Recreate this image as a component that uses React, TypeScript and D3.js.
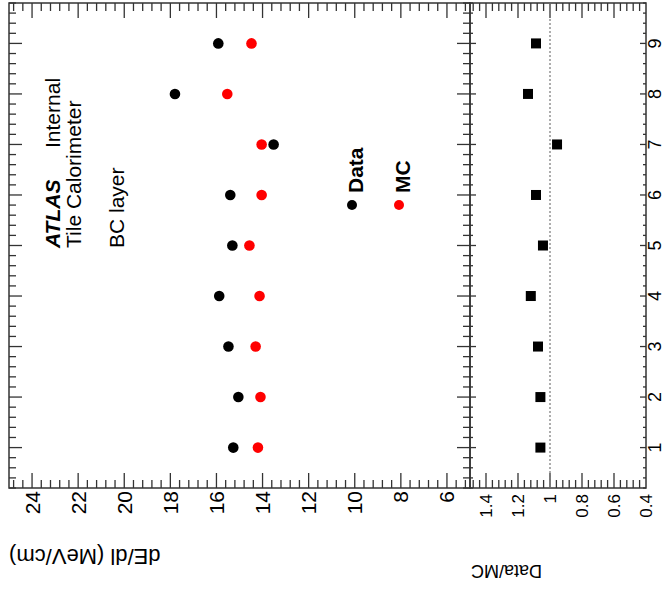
import React from "react";
import * as d3 from "d3";

const modules = [1, 2, 3, 4, 5, 6, 7, 8, 9];
const dataValues = [15.27, 15.05, 15.48, 15.88, 15.31, 15.4, 13.52, 17.8, 15.92];
const mcValues = [14.2, 14.09, 14.3, 14.13, 14.57, 14.04, 14.04, 15.53, 14.48];
const ratioValues = [1.06, 1.06, 1.075, 1.12, 1.044, 1.0875, 0.956, 1.1375, 1.0875];
const dedlTicks = [6, 8, 10, 12, 14, 16, 18, 20, 22, 24];
const ratioTicks = [0.4, 0.6, 0.8, 1, 1.2, 1.4];
const ratioTickLabels = ["0.4", "0.6", "0.8", "1", "1.2", "1.4"];

const FONT = "'Liberation Sans', Arial, Helvetica, sans-serif";

export default function App() {
  const W = 664;
  const H = 589;
  const top = 3;
  const bottom = 488;
  const mainLeft = 9;
  const divider = 470;
  const ratioRight = 646;

  const xMain = d3.scaleLinear().domain([25, 5]).range([mainLeft, divider]);
  const xRatio = d3.scaleLinear().domain([1.5, 0.4]).range([divider, ratioRight]);
  const yMod = d3.scaleLinear().domain([0.2, 9.8]).range([bottom, top]);

  const mainMinor = d3.range(5.2, 25.0, 0.4).map((v) => +v.toFixed(2));
  const ratioMinor = d3.range(0.44, 1.5, 0.04).map((v) => +v.toFixed(3));
  const modMinor = d3.range(0.2, 9.81, 0.2).map((v) => +v.toFixed(2));

  const stroke = "#333";
  const lines: JSX.Element[] = [];

  mainMinor.forEach((v, i) => {
    const major = dedlTicks.some((t) => Math.abs(t - v) < 1e-6);
    const L = major ? 15 : 8;
    const x = xMain(v);
    lines.push(<line key={"mb" + i} x1={x} x2={x} y1={bottom} y2={bottom - L} stroke={stroke} strokeWidth={1.3} />);
    lines.push(<line key={"mt" + i} x1={x} x2={x} y1={top} y2={top + L} stroke={stroke} strokeWidth={1.3} />);
  });
  ratioMinor.forEach((v, i) => {
    const major = ratioTicks.some((t) => Math.abs(t - v) < 1e-6);
    const L = major ? 15 : 8;
    const x = xRatio(v);
    lines.push(<line key={"rb" + i} x1={x} x2={x} y1={bottom} y2={bottom - L} stroke={stroke} strokeWidth={1.3} />);
    lines.push(<line key={"rt" + i} x1={x} x2={x} y1={top} y2={top + L} stroke={stroke} strokeWidth={1.3} />);
  });
  modMinor.forEach((v, i) => {
    const major = Math.abs(v - Math.round(v)) < 1e-6;
    const y = yMod(v);
    const Lm = major ? 13 : 7;
    const Lr = major ? 6 : 3;
    lines.push(<line key={"ml" + i} x1={mainLeft} x2={mainLeft + Lm} y1={y} y2={y} stroke={stroke} strokeWidth={1.3} />);
    lines.push(<line key={"mr" + i} x1={divider} x2={divider - Lm} y1={y} y2={y} stroke={stroke} strokeWidth={1.3} />);
    lines.push(<line key={"rl" + i} x1={divider} x2={divider + Lr} y1={y} y2={y} stroke={stroke} strokeWidth={1.3} />);
    lines.push(<line key={"rr" + i} x1={ratioRight} x2={ratioRight - Lr} y1={y} y2={y} stroke={stroke} strokeWidth={1.3} />);
  });

  const vText = (x: number, y: number, txt: string, opts: any = {}) => (
    <text
      x={0}
      y={0}
      transform={`translate(${x},${y}) rotate(-90)`}
      fontFamily={FONT}
      fontSize={opts.size || 21}
      fontWeight={opts.bold ? "bold" : "normal"}
      fontStyle={opts.italic ? "italic" : "normal"}
      textAnchor={opts.anchor || "start"}
      fill={opts.fill || "#000"}
    >
      {txt}
    </text>
  );

  return (
    <svg width={W} height={H} style={{ position: "absolute", left: 0, top: 0, background: "#fff" }}>
      <rect x={0} y={0} width={W} height={H} fill="#fff" />
      <rect x={mainLeft} y={top} width={divider - mainLeft} height={bottom - top} fill="none" stroke={stroke} strokeWidth={1.5} />
      <rect x={divider} y={top} width={ratioRight - divider} height={bottom - top} fill="none" stroke={stroke} strokeWidth={1.5} />
      {lines}
      <line x1={xRatio(1)} x2={xRatio(1)} y1={top} y2={bottom} stroke="#777" strokeWidth={1.2} strokeDasharray="2,2" />

      {dedlTicks.map((t) => (
        <g key={"dl" + t}>{vText(xMain(t) + 7.5, 491, String(t), { anchor: "end", size: 21 })}</g>
      ))}
      {ratioTicks.map((t, i) => (
        <g key={"rl" + t}>{vText(xRatio(t) + 6, 494, ratioTickLabels[i], { anchor: "end", size: 17 })}</g>
      ))}
      {modules.map((m) => (
        <g key={"mod" + m}>{vText(661, yMod(m), String(m), { anchor: "middle", size: 18 })}</g>
      ))}

      <text x={0} y={0} transform={`translate(${mainLeft},549) rotate(180)`} fontFamily={FONT} fontSize={22} textAnchor="end">
        dE/dl (MeV/cm)
      </text>
      <text x={0} y={0} transform={`translate(${divider + 1},565) rotate(180)`} fontFamily={FONT} fontSize={18} textAnchor="end">
        Data/MC
      </text>

      {vText(60, 248, "ATLAS", { bold: true, italic: true, size: 21 })}
      {vText(60, 148, "Internal", { size: 21 })}
      {vText(81, 248, "Tile Calorimeter", { size: 21 })}
      {vText(124, 248, "BC layer", { size: 21 })}

      <circle cx={352} cy={205} r={5} fill="#000" />
      {vText(363, 193, "Data", { bold: true, size: 21 })}
      <circle cx={399} cy={205} r={5} fill="#ff0000" />
      {vText(410, 193, "MC", { bold: true, size: 21 })}

      {modules.map((m, i) => (
        <circle key={"d" + m} cx={xMain(dataValues[i])} cy={yMod(m)} r={5.3} fill="#000" />
      ))}
      {modules.map((m, i) => (
        <circle key={"mc" + m} cx={xMain(mcValues[i])} cy={yMod(m)} r={5.3} fill="#ff0000" />
      ))}
      {modules.map((m, i) => (
        <rect key={"r" + m} x={xRatio(ratioValues[i]) - 5} y={yMod(m) - 5} width={10} height={10} fill="#000" />
      ))}
    </svg>
  );
}
